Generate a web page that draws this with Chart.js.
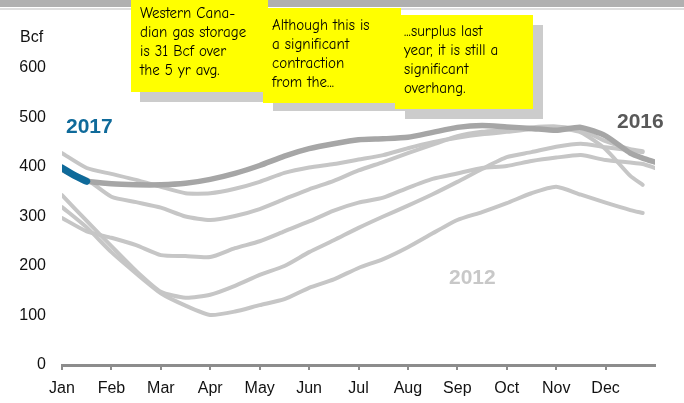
<!DOCTYPE html>
<html><head><meta charset="utf-8">
<script src="https://cdn.jsdelivr.net/npm/chart.js@4"></script>
<style>
html,body{margin:0;padding:0;background:#fff;}
#wrap{position:relative;width:684px;height:403px;overflow:hidden;font-family:"Liberation Sans",Arial,sans-serif;}
canvas{position:absolute;left:0;top:0;}
.bar{position:absolute;left:0;top:0;width:684px;height:7px;background:#b0b0b0;}
.bar2{position:absolute;left:0;top:8px;width:684px;height:2px;background:#dedede;}
.shadow{position:absolute;background:#cccccc;}
.note{position:absolute;box-sizing:border-box;background:#ffff00;font-family:"Comic Sans MS","Comic Neue","Liberation Sans",sans-serif;font-size:15px;line-height:19px;color:#000;white-space:nowrap;padding-left:9px;}
.lbl{position:absolute;font-weight:bold;font-size:21px;line-height:21px;font-family:"Liberation Sans",Arial,sans-serif;}
.bcf{position:absolute;left:20px;top:28px;font-size:16px;line-height:18px;color:#111;font-family:"Liberation Sans",Arial,sans-serif;}
</style></head>
<body>
<div id="wrap">
<canvas id="c" width="684" height="403"></canvas>
<div class="bar"></div><div class="bar2"></div>
<div class="shadow" style="left:140px;top:10px;width:137px;height:92px;"></div>
<div class="note" style="left:131px;top:0px;width:137px;height:92px;padding-top:4px;">Western Cana-<br>dian gas storage<br>is 31 Bcf over<br>the 5 yr avg.</div>
<div class="shadow" style="left:273px;top:16px;width:138px;height:95px;"></div>
<div class="note" style="left:263px;top:8px;width:138px;height:95px;padding-top:8px;">Although this is<br>a significant<br>contraction<br>from the...</div>
<div class="shadow" style="left:405px;top:25px;width:138px;height:94px;"></div>
<div class="note" style="left:395px;top:15px;width:138px;height:94px;padding-top:7px;">...surplus last<br>year, it is still a<br>significant<br>overhang.</div>
<div class="bcf">Bcf</div>
<div class="lbl" style="left:66px;top:115px;color:#0f6a9a;">2017</div>
<div class="lbl" style="left:617px;top:110px;color:#595959;">2016</div>
<div class="lbl" style="left:449px;top:266px;color:#c8c8c8;">2012</div>
</div>
<script>
const months = ['Jan','Feb','Mar','Apr','May','Jun','Jul','Aug','Sep','Oct','Nov','Dec'];
const yTicks = [0,100,200,300,400,500,600];
// x positions in months from Jan 1
const xPos = [0,0.5,1,1.5,2,2.5,3,3.5,4,4.5,5,5.5,6,6.5,7,7.5,8,8.5,9,9.5,10,10.5,11,11.5,11.75,12];
const x2017 = [0,0.25,0.5];
const s2017 = [398,383,371];
const s2016 = [395,372,366,364,364,367,375,387,403,422,437,447,455,457,460,470,480,484,481,478,474,480,463,428,418,410];
const grayA = [428,398,386,374,360,347,347,356,370,388,399,406,415,424,438,450,459,466,471,476,479,470,436,382,364,null];
const grayC = [395,375,340,329,318,300,293,301,315,335,355,372,393,410,428,445,462,471,475,480,482,475,452,436,432,null];
const grayD = [343,291,240,190,148,136,142,160,182,200,228,252,277,300,322,345,370,396,420,430,441,447,440,434,430,null];
const grayE = [319,278,228,185,145,120,101,108,121,133,156,173,196,214,238,266,293,309,327,347,360,344,328,313,307,null];
const grayF = [297,270,257,242,222,220,218,236,250,270,290,312,328,338,358,376,387,398,402,412,419,424,414,409,406,398];

function pts(vals, xs){ return vals.map((v,i)=>({x:xs[i], y:v})); }
const gray = '#c6c6c6';
function grayDs(vals){ return {data:pts(vals,xPos), borderColor:gray, borderWidth:4, pointRadius:0, tension:0.2, spanGaps:false, borderCapStyle:'round', borderJoinStyle:'round'}; }

new Chart(document.getElementById('c'), {
  type:'line',
  data:{datasets:[
    {label:'2017', data:pts(s2017,x2017), borderColor:'#0f6a9a', borderWidth:7, pointRadius:0, tension:0.4, borderCapStyle:'round'},
    {label:'2016', data:pts(s2016,xPos), borderColor:'#a6a6a6', borderWidth:5.5, pointRadius:0, tension:0.2, borderCapStyle:'round', borderJoinStyle:'round'},
    grayDs(grayA), grayDs(grayC), grayDs(grayD), grayDs(grayE), grayDs(grayF)
  ]},
  options:{
    responsive:false, animation:false, devicePixelRatio:1,
    layout:{padding:{top:68,right:29,left:0,bottom:0}},
    plugins:{legend:{display:false}, tooltip:{enabled:false}},
    scales:{
      x:{type:'linear', min:0, max:12,
        afterBuildTicks(s){ s.ticks = months.map((m,i)=>({value:i})); },
        afterFit(s){ s.height = 38; },
        ticks:{callback:(v)=>months[v]||'', autoSkip:false, maxRotation:0, padding:9, color:'#111', font:{size:16, family:'"Liberation Sans", Arial, sans-serif'}},
        grid:{display:true, drawOnChartArea:false, drawTicks:true, tickLength:5, color:'#8c8c8c', lineWidth:2},
        border:{display:true, color:'#8c8c8c', width:3}
      },
      y:{min:0, max:600,
        afterBuildTicks(s){ s.ticks = yTicks.map(v=>({value:v})); },
        afterFit(s){ s.width = 62; },
        ticks:{padding:16, color:'#111', font:{size:16, family:'"Liberation Sans", Arial, sans-serif'}},
        grid:{display:false, drawTicks:false},
        border:{display:false}
      }
    }
  }
});
</script>
</body></html>
